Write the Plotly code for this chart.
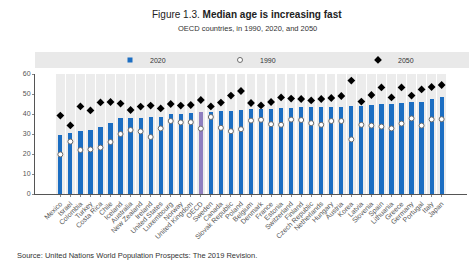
import plotly.graph_objects as go

countries = ["Mexico", "Israel", "Colombia", "Turkey", "Costa Rica", "Chile", "Iceland",
             "Australia", "New Zealand", "Ireland", "United States", "Luxembourg", "Norway",
             "United Kingdom", "OECD", "Sweden", "Canada", "Slovak Republic", "Poland",
             "Belgium", "Denmark", "France", "Estonia", "Switzerland", "Finland",
             "Czech Republic", "Netherlands", "Hungary", "Austria", "Korea", "Latvia",
             "Slovenia", "Spain", "Lithuania", "Greece", "Germany", "Portugal", "Italy", "Japan"]

age_2020 = [29.5, 30.6, 31.6, 31.8, 33.7, 35.7, 37.8, 38.2, 38.2, 38.3, 38.4, 39.9, 40.0,
            40.7, 40.8, 41.2, 41.5, 41.7, 41.8, 42.3, 42.7, 42.7, 42.8, 43.2, 43.3,
            43.3, 43.3, 43.4, 43.7, 43.8, 44.2, 44.5, 44.8, 45.2, 45.5, 45.8, 46.2, 47.3, 48.3]

age_1990 = [19.8, 26.2, 22.0, 22.3, 23.2, 26.0, 30.0, 32.0, 31.3, 28.5, 32.8, 36.5, 35.8,
            35.9, 32.7, 38.5, 33.1, 31.4, 32.4, 36.7, 37.1, 34.9, 34.6, 37.2, 37.0,
            35.4, 34.6, 36.5, 36.5, 27.3, 34.6, 34.2, 33.7, 32.8, 35.2, 37.8, 34.2, 37.3, 37.4]

age_2050 = [39.2, 34.3, 43.8, 41.8, 45.8, 46.0, 45.2, 42.0, 43.7, 44.2, 42.8, 45.0, 44.2,
            44.5, 47.0, 43.8, 45.7, 49.2, 51.5, 45.5, 44.3, 46.0, 48.3, 47.7, 47.5,
            46.8, 47.5, 48.0, 49.0, 56.7, 46.2, 49.5, 53.3, 48.3, 53.3, 49.2, 52.3, 53.5, 54.5]

y_max = 60
y_ticks = [0, 10, 20, 30, 40, 50, 60]

FONT = "Arial, Liberation Sans, sans-serif"
BLUE = "#1c6ec2"
PURPLE = "#8f7fbf"

fig = go.Figure()

# grey category bands
fig.add_trace(go.Bar(x=countries, y=[y_max] * len(countries), width=0.84,
                     marker=dict(color="#ececec", line=dict(width=0)),
                     showlegend=False, hoverinfo="skip"))

fig.add_trace(go.Bar(x=countries, y=age_2020, name="2020", width=0.42,
                     marker=dict(color=[PURPLE if c == "OECD" else BLUE for c in countries],
                                 line=dict(width=0)),
                     showlegend=False))

fig.add_trace(go.Scatter(x=countries, y=age_1990, name="1990", mode="markers",
                         marker=dict(symbol="circle", size=5, color="white",
                                     line=dict(color="#6b6b6b", width=1)),
                         legend="legend2"))

fig.add_trace(go.Scatter(x=countries, y=age_2050, name="2050", mode="markers",
                         marker=dict(symbol="diamond", size=6, color="black",
                                     line=dict(width=0)),
                         legend="legend3"))

# legend entry for the 2020 bars (small square like the original)
fig.add_trace(go.Scatter(x=[None], y=[None], name="2020", mode="markers",
                         marker=dict(symbol="square", size=5, color=BLUE),
                         legend="legend", hoverinfo="skip"))

# legend band
fig.add_shape(type="rect", xref="paper", yref="paper", x0=0, x1=1.01, y0=1.05, y1=1.183,
              fillcolor="#e9e9e9", line=dict(width=0), layer="below")

leg_common = dict(orientation="h", yanchor="middle", xanchor="left", y=1.117,
                  bgcolor="rgba(0,0,0,0)", font=dict(family=FONT, size=7, color="#333"),
                  itemwidth=30, tracegroupgap=0)

fig.update_layout(
    width=469, height=266,
    margin=dict(l=35, r=2, t=74, b=72),
    paper_bgcolor="white", plot_bgcolor="white",
    barmode="overlay", bargap=0,
    font=dict(family=FONT, color="#555"),
    legend=dict(x=(110 - 35) / 432, **leg_common),
    legend2=dict(x=(220 - 35) / 432, **leg_common),
    legend3=dict(x=(358 - 35) / 432, **leg_common),
    xaxis=dict(tickangle=-45, tickfont=dict(size=7, color="#555"),
               showline=True, linecolor="#555", linewidth=1,
               ticks="outside", ticklen=2, tickcolor="#888",
               showgrid=False, automargin=False),
    yaxis=dict(range=[0, y_max], tickvals=y_ticks, tickfont=dict(size=7, color="#555"),
               showline=True, linecolor="#555", linewidth=1,
               ticks="outside", ticklen=2, tickcolor="#888",
               showgrid=False, zeroline=False, automargin=False),
)

fig.add_annotation(xref="paper", yref="paper", x=(247 - 35) / 432, y=1 + (74 - 14) / 120,
                   text="Figure 1.3. <b>Median age is increasing fast</b>", showarrow=False,
                   font=dict(family=FONT, size=10, color="#222"), xanchor="center",
                   yanchor="middle")
fig.add_annotation(xref="paper", yref="paper", x=(247 - 35) / 432, y=1 + (74 - 28) / 120,
                   text="OECD countries, in 1990, 2020, and 2050", showarrow=False,
                   font=dict(family=FONT, size=7.5, color="#333"), xanchor="center",
                   yanchor="middle")
fig.add_annotation(xref="paper", yref="paper", x=(15 - 35) / 432, y=-(255 - 194) / 120,
                   text="Source: United Nations World Population Prospects: The 2019 Revision.",
                   showarrow=False, font=dict(family=FONT, size=7.5, color="#333"),
                   xanchor="left", yanchor="middle")

fig.write_html("out.html", config={"displayModeBar": False},
               post_script="document.body.style.margin='0';")
